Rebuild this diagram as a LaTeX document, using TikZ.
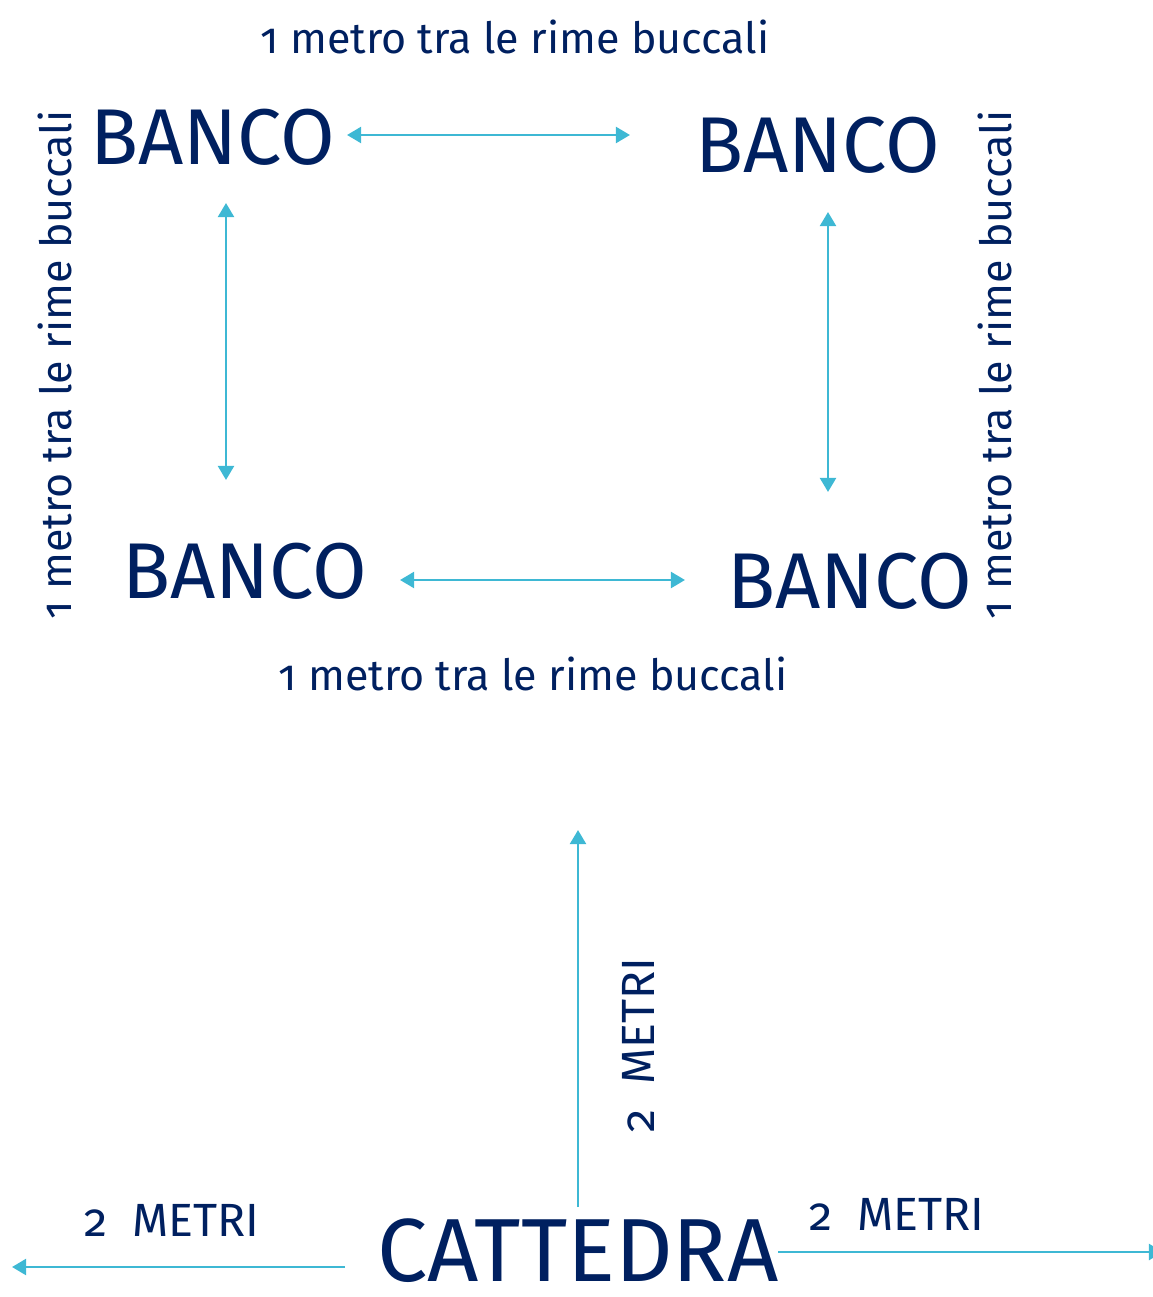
\documentclass[tikz,border=0pt]{standalone}
\usepackage{fontspec}
\setmainfont{Fira Sans}[Numbers=OldStyle]
\usepackage{tikz}
\usetikzlibrary{arrows.meta,positioning,calc}
\definecolor{aulanavy}{RGB}{0,32,96}
\definecolor{aulacyan}{RGB}{62,184,212}

\tikzset{
    banco/.style={text=aulanavy, font=\fontsize{45}{45}\selectfont, inner sep=0pt},
    misura/.style={text=aulanavy, font=\fontsize{24.5}{24.5}\selectfont, inner sep=0pt},
    metri/.style={text=aulanavy, font=\fontsize{26.5}{26.5}\selectfont, inner sep=0pt},
    freccia/.style={aulacyan, line width=1.6pt, {Triangle[length=8pt,width=9pt]}-{Triangle[length=8pt,width=9pt]}},
}

\begin{document}
\begin{tikzpicture}[x=0.02cm, y=-0.02cm]
    \useasboundingbox (0,0) rectangle (1152,1297);

    % Banchi
    \node[banco] (bancoTL) at (213,137) {BANCO};
    \node[banco] (bancoTR) at (818,145) {BANCO};
    \node[banco] (bancoBL) at (245,571) {BANCO};
    \node[banco] (bancoBR) at (850,581) {BANCO};

    % Cattedra
    \node[text=aulanavy, font=\fontsize{51}{51}\selectfont, inner sep=0pt] (cattedra) at (578,1251) {CATTEDRA};

    % Estremi delle frecce
    \coordinate (topA) at (347,135);
    \coordinate (topB) at (630,135);
    \coordinate (botA) at (400,580);
    \coordinate (botB) at (685,580);
    \coordinate (sxA) at (226,203);
    \coordinate (sxB) at (226,480);
    \coordinate (dxA) at (828,212);
    \coordinate (dxB) at (828,492);
    \coordinate (suA) at (578,1207);
    \coordinate (suB) at (578,830);
    \coordinate (lfA) at (345,1267);
    \coordinate (lfB) at (12,1267);
    \coordinate (rtA) at (778,1252);
    \coordinate (rtB) at (1163,1252);

    % Frecce tra i banchi
    \draw[freccia] (topA) -- (topB);
    \draw[freccia] (botA) -- (botB);
    \draw[freccia] (sxA) -- (sxB);
    \draw[freccia] (dxA) -- (dxB);

    % Frecce dalla cattedra
    \draw[freccia, -{Triangle[length=8pt,width=9pt]}] (suA) -- (suB);
    \draw[freccia, -{Triangle[length=8pt,width=9pt]}] (lfA) -- (lfB);
    \draw[freccia, -{Triangle[length=8pt,width=9pt]}] (rtA) -- (rtB);

    % Distanze
    \node[misura] (misTop) at (515,37) {1 metro tra le rime buccali};
    \node[misura] (misBot) at (533,674) {1 metro tra le rime buccali};
    \node[misura, rotate=90] (misSx) at (55,365) {1 metro tra le rime buccali};
    \node[misura, rotate=90] (misDx) at (995,365) {1 metro tra le rime buccali};
    \node[metri, rotate=90] (metSu) at (638,1045) {2\ \ METRI};
    \node[metri] (metSx) at (172,1220) {2\ \ METRI};
    \node[metri] (metDx) at (897,1214) {2\ \ METRI};
\end{tikzpicture}
\end{document}
